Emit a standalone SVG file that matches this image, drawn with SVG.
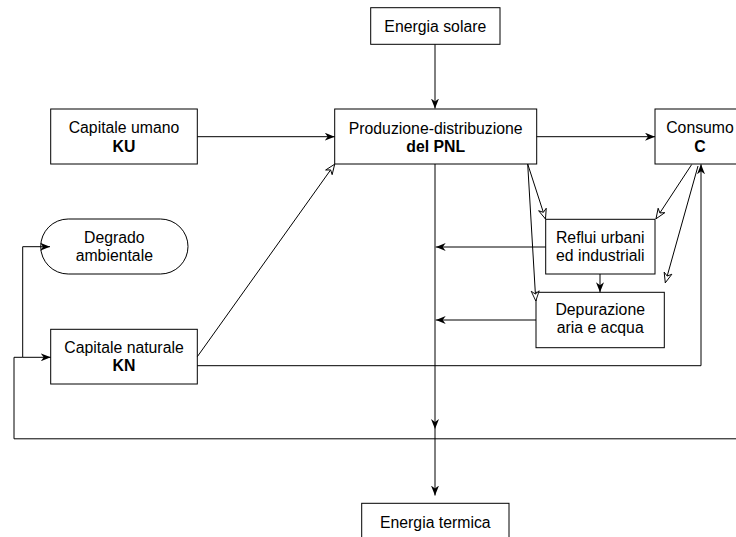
<svg xmlns="http://www.w3.org/2000/svg" width="736" height="537" viewBox="0 0 736 537">
  <defs>
    <style>
      .box { fill: #ffffff; stroke: #000000; stroke-width: 1; }
      .lbl { font-family: "Liberation Sans", Arial, sans-serif; font-size: 15.8px; fill: #000000; text-anchor: middle; }
      .b { font-weight: bold; }
      .edge { fill: none; stroke: #000000; stroke-width: 1; }
      .solid { marker-end: url(#arrowFilled); }
      .open { marker-end: url(#arrowOpen); }
    </style>
    <marker id="arrowFilled" viewBox="0 0 10 8" refX="10" refY="4" markerWidth="10" markerHeight="8" markerUnits="userSpaceOnUse" orient="auto">
      <path d="M0,0 L10,4 L0,8 L3,4 Z" fill="#000000"/>
    </marker>
    <marker id="arrowOpen" viewBox="-1 -1 12 10" refX="10" refY="4" markerWidth="12" markerHeight="10" markerUnits="userSpaceOnUse" orient="auto">
      <path d="M0,0 L10,4 L0,8 L3,4 Z" fill="#ffffff" stroke="#000000" stroke-width="0.9"/>
    </marker>
  </defs>

  <rect width="736" height="537" fill="#ffffff"/>

  <!-- nodes -->
  <g id="energia-solare">
    <rect class="box" x="370.7" y="7.7" width="129.3" height="36.6"/>
    <text class="lbl" x="435.3" y="32.3">Energia solare</text>
  </g>

  <g id="produzione">
    <rect class="box" x="334.7" y="109" width="202" height="55"/>
    <text class="lbl" x="435.7" y="133.5">Produzione-distribuzione</text>
    <text class="lbl b" x="435.7" y="152">del PNL</text>
  </g>

  <g id="capitale-umano">
    <rect class="box" x="50.7" y="109" width="146.6" height="55"/>
    <text class="lbl" x="124" y="133">Capitale umano</text>
    <text class="lbl b" x="124" y="152">KU</text>
  </g>

  <g id="consumo">
    <rect class="box" x="655" y="109" width="92" height="55"/>
    <text class="lbl" x="700" y="133.3">Consumo</text>
    <text class="lbl b" x="700" y="151.5">C</text>
  </g>

  <g id="degrado">
    <rect class="box" x="40.7" y="219" width="147.3" height="55" rx="27.5" ry="27.5"/>
    <text class="lbl" x="114.3" y="242.7">Degrado</text>
    <text class="lbl" x="114.3" y="261">ambientale</text>
  </g>

  <g id="reflui">
    <rect class="box" x="545.7" y="219.3" width="109.3" height="54.7"/>
    <text class="lbl" x="600.3" y="242.7">Reflui urbani</text>
    <text class="lbl" x="600.3" y="260.5">ed industriali</text>
  </g>

  <g id="depurazione">
    <rect class="box" x="536" y="292.3" width="128.3" height="55.4"/>
    <text class="lbl" x="600.2" y="314.7">Depurazione</text>
    <text class="lbl" x="600.2" y="333.3">aria e acqua</text>
  </g>

  <g id="capitale-naturale">
    <rect class="box" x="50.7" y="329.3" width="146.6" height="54.7"/>
    <text class="lbl" x="124" y="352.7">Capitale naturale</text>
    <text class="lbl b" x="124" y="371">KN</text>
  </g>

  <g id="energia-termica">
    <rect class="box" x="361.7" y="503.3" width="147.3" height="45"/>
    <text class="lbl" x="435.3" y="527.5">Energia termica</text>
  </g>

  <!-- connectors -->
  <g id="connectors">
    <!-- solar energy into production -->
    <path class="edge solid" d="M435,44.3 L435,108.5"/>
    <!-- human capital into production -->
    <path class="edge solid" d="M197.3,136.7 L334.7,136.7"/>
    <!-- production to consumption -->
    <path class="edge solid" d="M536.7,136.7 L655,136.7"/>
    <!-- production down to thermal energy -->
    <path class="edge solid" d="M435,164 L435,429"/>
    <path class="edge solid" d="M435,429 L435,495.5"/>
    <!-- effluents and purification back onto the main flow -->
    <path class="edge solid" d="M545.7,247 L435.7,247"/>
    <path class="edge solid" d="M536,320 L435.7,320"/>
    <!-- effluents into purification -->
    <path class="edge solid" d="M600,274 L600,292.3"/>
    <!-- open-headed flows -->
    <path class="edge open" d="M527.7,164 L545.5,219"/>
    <path class="edge open" d="M527.7,164 L535.8,301"/>
    <path class="edge open" d="M691.7,164.5 L656,218.8"/>
    <path class="edge open" d="M698,166 L665.3,282.8"/>
    <path class="edge open" d="M197.3,356.7 L334.7,164.2"/>
    <!-- natural capital to consumption -->
    <path class="edge solid" d="M197.3,365.7 L701,365.7 L701,164.3"/>
    <!-- outer return loop -->
    <path class="edge" d="M736,438.8 L14,438.8 L14,357.3 L22.7,357.3"/>
    <path class="edge solid" d="M22.7,357.3 L50.7,357.3"/>
    <path class="edge solid" d="M22.7,357.3 L22.7,246.7 L50,246.7"/>
  </g>
</svg>
